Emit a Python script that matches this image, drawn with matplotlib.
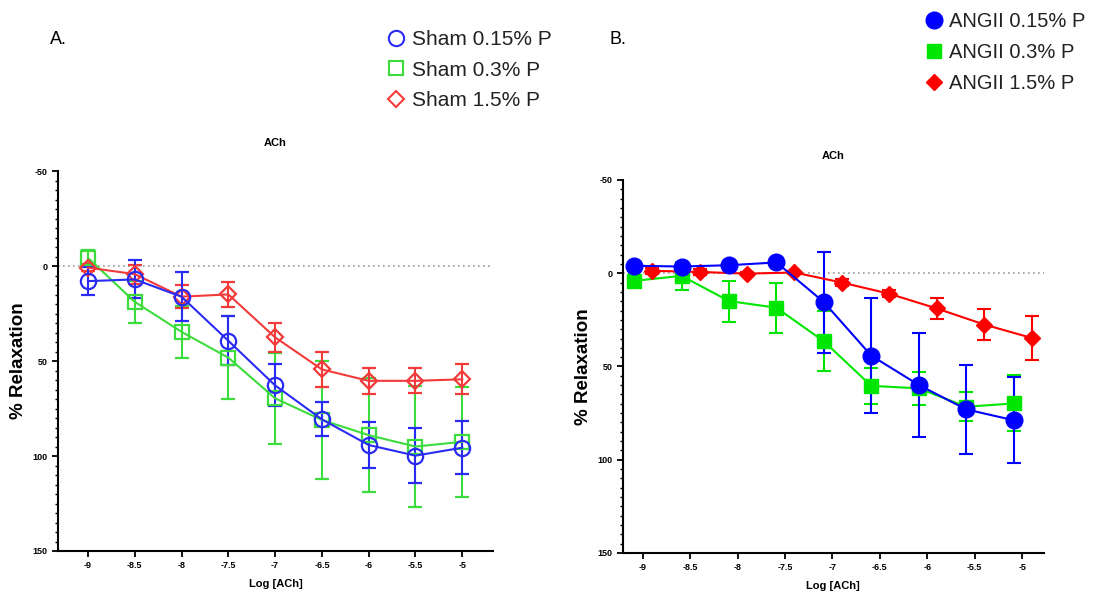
import matplotlib
matplotlib.use("Agg")
import matplotlib.pyplot as plt
from matplotlib.lines import Line2D
from matplotlib.ticker import MultipleLocator
import numpy as np

plt.rcParams['font.family'] = ['Liberation Sans', 'DejaVu Sans']

# ---------------- data ----------------
log_ach = [-9, -8.5, -8, -7.5, -7, -6.5, -6, -5.5, -5]
tick_labels = ['-9', '-8.5', '-8', '-7.5', '-7', '-6.5', '-6', '-5.5', '-5']

# Panel A (Sham)
sham_015 = [7.9, 7.0, 16.1, 39.3, 62.8, 80.7, 94.2, 99.8, 95.6]
sham_015_err = [7.3, 10.0, 13.0, 13.0, 11.0, 9.0, 12.0, 14.5, 14.0]
sham_03 = [-4.4, 18.8, 34.6, 48.2, 69.6, 81.0, 89.0, 95.0, 92.5]
sham_03_err = [4.0, 11.0, 13.6, 22.0, 24.0, 31.0, 30.0, 32.0, 29.0]
sham_15 = [0.8, 4.2, 16.1, 14.9, 37.5, 54.4, 60.4, 60.4, 59.6]
sham_15_err = [2.0, 5.0, 6.0, 6.6, 7.6, 9.0, 7.0, 6.5, 7.8]

# Panel B (ANGII)
angii_x_offset_low = -0.09
angii_x_offset_high = 0.1
angii_015 = [-4.0, -3.6, -4.3, -5.8, 15.5, 44.2, 59.9, 73.0, 78.8]
angii_015_err = [1.0, 1.0, 1.0, 1.0, 27.0, 31.0, 28.0, 24.0, 23.0]
angii_03 = [4.1, 1.4, 14.9, 18.5, 36.5, 60.4, 61.7, 71.6, 69.8]
angii_03_err = [3.0, 7.6, 11.0, 13.5, 16.0, 9.5, 9.0, 7.7, 15.0]
angii_15 = [-1.3, -0.7, 0.2, -0.4, 5.0, 11.0, 18.9, 27.5, 34.7]
angii_15_err = [1.5, 1.5, 1.0, 1.0, 2.0, 2.0, 5.7, 8.4, 12.0]

# ---------------- figure ----------------
fig = plt.figure(figsize=(11.13, 6.01), dpi=100)
axA = fig.add_axes([0.0521, 0.0832, 0.391, 0.632])
axB = fig.add_axes([0.5595, 0.0799, 0.3785, 0.6206])


def style_axis(ax, xlim, title_pad):
    ax.set_ylim(150, -50)
    ax.set_xlim(*xlim)
    ax.spines['top'].set_visible(False)
    ax.spines['right'].set_visible(False)
    for s in ('left', 'bottom'):
        ax.spines[s].set_linewidth(1.5)
    ax.set_yticks([-50, 0, 50, 100, 150])
    ax.set_yticklabels(['-50', '0', '50', '100', '150'])
    ax.yaxis.set_minor_locator(MultipleLocator(5))
    ax.set_xticks(log_ach)
    ax.set_xticklabels(tick_labels)
    ax.tick_params(axis='both', which='major', labelsize=6.5, width=1.3, length=4)
    ax.tick_params(axis='y', which='minor', width=1.0, length=2.5)
    for lab in ax.get_xticklabels() + ax.get_yticklabels():
        lab.set_fontweight('bold')
    ax.axhline(0, color='#999999', linestyle=(0, (1, 2)), linewidth=1.2, zorder=0)
    ax.set_title('ACh', fontsize=8, fontweight='bold', pad=title_pad)
    ax.set_xlabel('Log [ACh]', fontsize=8, fontweight='bold', labelpad=6)
    ax.set_ylabel('% Relaxation', fontsize=13.5, fontweight='bold', labelpad=4)


# Panel A
cA = {'b': '#2a2af5', 'g': '#3ddc3d', 'r': '#f23a3a'}
for y, e, c, m, ms in [(sham_03, sham_03_err, cA['g'], 's', 10),
                       (sham_15, sham_15_err, cA['r'], 'D', 8),
                       (sham_015, sham_015_err, cA['b'], 'o', 11)]:
    axA.errorbar(log_ach, y, yerr=e, color=c, marker=m, markersize=ms,
                 markerfacecolor='none', markeredgecolor=c, markeredgewidth=1.6,
                 linewidth=1.5, elinewidth=1.5, capsize=5, capthick=1.5)
style_axis(axA, (-9.32, -4.67), 18)

# Panel B
xB_low = [v + angii_x_offset_low for v in log_ach]
xB_high = [v + angii_x_offset_high for v in log_ach]
cB = {'b': '#0000ff', 'g': '#00e600', 'r': '#ff0000'}
for x, y, e, c, m, ms in [(xB_low, angii_03, angii_03_err, cB['g'], 's', 10),
                          (xB_high, angii_15, angii_15_err, cB['r'], 'D', 8),
                          (xB_low, angii_015, angii_015_err, cB['b'], 'o', 12)]:
    axB.errorbar(x, y, yerr=e, color=c, marker=m, markersize=ms,
                 markerfacecolor=c, markeredgecolor=c,
                 linewidth=1.5, elinewidth=1.5, capsize=5, capthick=1.5)
style_axis(axB, (-9.21, -4.77), 15)

# Panel letters
fig.text(0.045, 0.935, 'A.', fontsize=13, ha='left', va='center')
fig.text(0.548, 0.935, 'B.', fontsize=13, ha='left', va='center')

# Legends
hA = [Line2D([], [], linestyle='none', marker='o', markersize=11, markerfacecolor='none',
             markeredgecolor=cA['b'], markeredgewidth=1.5),
      Line2D([], [], linestyle='none', marker='s', markersize=10, markerfacecolor='none',
             markeredgecolor=cA['g'], markeredgewidth=1.5),
      Line2D([], [], linestyle='none', marker='D', markersize=8, markerfacecolor='none',
             markeredgecolor=cA['r'], markeredgewidth=1.5)]
fig.legend(hA, ['Sham 0.15% P', 'Sham 0.3% P', 'Sham 1.5% P'],
           loc='upper left', bbox_to_anchor=(0.338, 0.967), frameon=False,
           fontsize=15, handlelength=0.9, handletextpad=0.3, labelspacing=0.55,
           borderpad=0, labelcolor='#222222')

hB = [Line2D([], [], linestyle='none', marker='o', markersize=12, color=cB['b']),
      Line2D([], [], linestyle='none', marker='s', markersize=10, color=cB['g']),
      Line2D([], [], linestyle='none', marker='D', markersize=8, color=cB['r'])]
fig.legend(hB, ['ANGII 0.15% P', 'ANGII 0.3% P', 'ANGII 1.5% P'],
           loc='upper left', bbox_to_anchor=(0.822, 0.997), frameon=False,
           fontsize=14.5, handlelength=0.9, handletextpad=0.3, labelspacing=0.6,
           borderpad=0, labelcolor='#222222')

fig.savefig('out.png', dpi=100)
